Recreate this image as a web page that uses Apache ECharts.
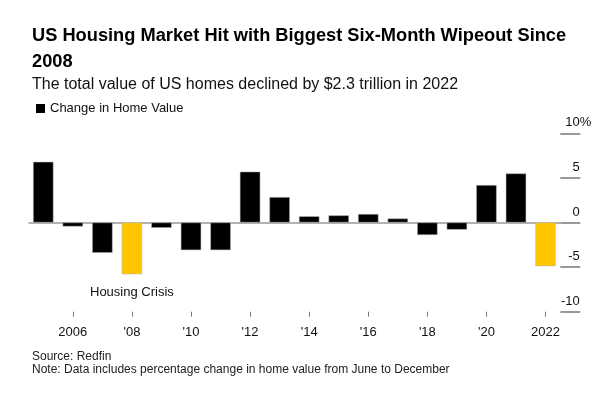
<!DOCTYPE html>
<html>
<head>
<meta charset="utf-8">
<script src="https://cdn.jsdelivr.net/npm/echarts@6/dist/echarts.min.js"></script>
<style>
  html, body { margin: 0; padding: 0; background: #fff; }
  #chart { width: 616px; height: 397px; }
</style>
</head>
<body>
<div id="chart"></div>
<script>
// six-month change in total US home value (June -> December), %
const years = ['2005', '2006', '2007', '2008', '2009', '2010', '2011', '2012', '2013',
  '2014', '2015', '2016', '2017', '2018', '2019', '2020', '2021', '2022']
const changePct = [6.8, -0.45, -3.4, -5.8, -0.6, -3.1, -3.1, 5.7, 2.85,
  0.7, 0.8, 0.95, 0.45, -1.4, -0.8, 4.2, 5.5, -4.9]
const highlightYears = ['2008', '2022']
const yearLabels = {
  '2006': '2006', '2008': "'08", '2010': "'10", '2012': "'12", '2014': "'14",
  '2016': "'16", '2018': "'18", '2020': "'20", '2022': '2022'
}

const FONT = '"Liberation Sans", Arial, sans-serif'
const YELLOW = '#ffc600'

const chart = echarts.init(document.getElementById('chart'))

const barData = years.map((y, i) => {
  const item = { value: changePct[i] }
  if (highlightYears.includes(y)) item.itemStyle = { color: YELLOW }
  if (y === '2008') {
    item.label = {
      show: true,
      position: 'bottom',
      distance: 12,
      formatter: 'Housing Crisis',
      color: '#111',
      fontSize: 13,
      fontFamily: FONT
    }
  }
  return item
})

chart.setOption({
  animation: false,
  backgroundColor: '#fff',
  title: [
    {
      text: 'US Housing Market Hit with Biggest Six-Month Wipeout Since\n2008',
      left: 32,
      top: 23,
      padding: 0,
      textStyle: { fontFamily: FONT, fontSize: 18.25, fontWeight: 'bold', color: '#000', lineHeight: 26 },
      subtext: 'The total value of US homes declined by $2.3 trillion in 2022',
      subtextStyle: { fontFamily: FONT, fontSize: 16, color: '#111' },
      itemGap: 2
    },
    {
      text: 'Source: Redfin\nNote: Data includes percentage change in home value from June to December',
      left: 32,
      top: 350,
      padding: 0,
      textStyle: { fontFamily: FONT, fontSize: 12, fontWeight: 'normal', color: '#222', lineHeight: 13 }
    }
  ],
  legend: {
    left: 31,
    top: 97,
    icon: 'rect',
    itemWidth: 9,
    itemHeight: 9,
    itemGap: 5,
    itemStyle: { borderWidth: 0 },
    textStyle: { fontFamily: FONT, fontSize: 13, color: '#111' },
    data: ['Change in Home Value']
  },
  grid: { left: 28.5, right: 55.7, top: 133.3, bottom: 85.3 },
  xAxis: {
    type: 'category',
    data: years,
    axisLine: { show: false, onZero: false },
    axisTick: {
      show: true,
      alignWithLabel: true,
      length: 5,
      interval: (i) => i % 2 === 1,
      lineStyle: { color: '#777', width: 1 }
    },
    axisLabel: {
      interval: (i) => i % 2 === 1,
      margin: 14,
      fontFamily: FONT,
      fontSize: 13,
      color: '#111',
      formatter: (v) => yearLabels[v] || ''
    }
  },
  yAxis: {
    type: 'value',
    position: 'right',
    min: -10,
    max: 10,
    interval: 5,
    axisLine: { show: false },
    axisTick: { show: true, length: 20, lineStyle: { color: '#999', width: 2 } },
    splitLine: {
      show: true,
      lineStyle: { color: ['rgba(0,0,0,0)', 'rgba(0,0,0,0)', '#999', 'rgba(0,0,0,0)', 'rgba(0,0,0,0)'], width: 1.5 }
    },
    axisLabel: {
      margin: 31,
      align: 'right',
      verticalAlign: 'bottom',
      padding: [0, 0, 4, 0],
      fontFamily: FONT,
      fontSize: 13,
      color: '#111',
      // numbers right-aligned, the % of the top label hangs past them
      formatter: (v) => v === 10 ? '{n|10}{p|%}' : '{n|' + v + '}{p| }',
      rich: {
        n: { fontFamily: FONT, fontSize: 13, color: '#111' },
        p: { fontFamily: FONT, fontSize: 13, color: '#111', width: 11.6 }
      }
    }
  },
  series: [
    {
      name: 'Change in Home Value',
      type: 'bar',
      data: barData,
      barCategoryGap: '31%',
      itemStyle: { color: '#000', borderColor: '#bbb', borderWidth: 0.5 }
    }
  ]
})
</script>
</body>
</html>
